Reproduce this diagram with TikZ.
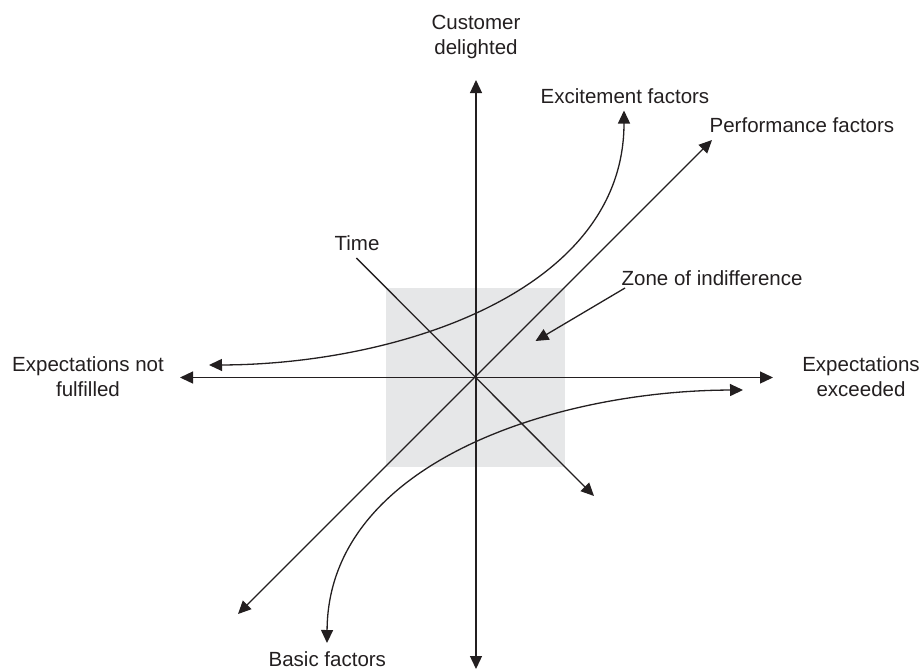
\documentclass[tikz,border=0pt]{standalone}
\usepackage{fontspec}
\setmainfont{Liberation Sans}
\usetikzlibrary{arrows.meta}
\definecolor{ink}{RGB}{35,31,32}
\definecolor{zonegray}{RGB}{230,231,232}
\begin{document}
\begin{tikzpicture}[x=1pt,y=-1pt,line width=1.3pt,draw=ink,
  tip/.style={-{Triangle[length=13pt,width=12pt]}},
  tips/.style={{Triangle[length=13pt,width=12pt]}-{Triangle[length=13pt,width=12pt]}},
  lbl/.style={font=\fontsize{20.5}{24.5}\selectfont,text=ink,inner sep=0pt,align=center}]
\useasboundingbox (0,0) rectangle (921,670);
% zone of indifference
\node[fill=zonegray,draw=none,minimum size=179pt,inner sep=0pt] (zonebox) at (475.5,377.5) {};
% coordinates
\coordinate (O) at (476,377.5);
\coordinate (top) at (476,80);
\coordinate (bottom) at (476,669);
\coordinate (left) at (180,377.5);
\coordinate (right) at (773,377.5);
\coordinate (pll) at (238,614);
\coordinate (pur) at (712,140);
\coordinate (timestart) at (356.4,258);
\coordinate (timeend) at (594,496);
\coordinate (zonestart) at (625,288);
\coordinate (zoneend) at (535.5,341);
\coordinate (excleft) at (209,365);
\coordinate (exctop) at (624,110.5);
\coordinate (basright) at (743,390);
\coordinate (basbottom) at (327,643);
% labels
\node[lbl,anchor=base] (custlbl) at (476,54) {Customer\\delighted};
\node[lbl,anchor=base west] (exclbl) at (540,103) {Excitement factors};
\node[lbl,anchor=base west] (perflbl) at (709,132) {Performance factors};
\node[lbl,anchor=base west] (zonelbl) at (621,285) {Zone of indifference};
\node[lbl,anchor=base] (timelbl) at (357,250) {Time};
\node[lbl,anchor=base] (notlbl) at (88,396) {Expectations not\\fulfilled};
\node[lbl,anchor=base] (exceedlbl) at (861,396) {Expectations\\exceeded};
\node[lbl,anchor=base west] (basiclbl) at (268,666) {Basic factors};
% axes
\draw[tips] (bottom) -- (top);
\draw[tips] (left) -- (right);
% performance factors
\draw[tips] (pll) -- (pur);
% time
\draw[tip] (timestart) -- (timeend);
% zone pointer
\draw[tip] (zonestart) -- (zoneend);
% excitement factors
\draw[tips] (excleft) .. controls (396,364.5) and (624,292.5) .. (exctop);
% basic factors
\draw[tips] (basright) .. controls (556,390.5) and (328,462.5) .. (basbottom);
\end{tikzpicture}
\end{document}
